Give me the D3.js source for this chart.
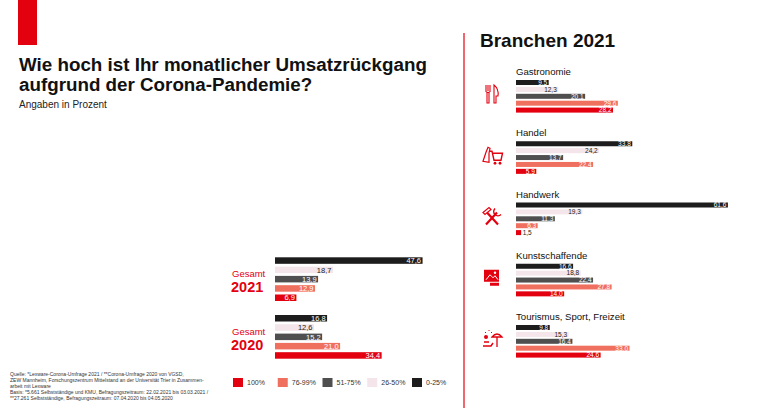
<!DOCTYPE html>
<html>
<head>
<meta charset="utf-8">
<script src="https://cdn.jsdelivr.net/npm/d3@7"></script>
<style>
  body { margin: 0; background: #fff; }
  svg { display: block; font-family: "Liberation Sans", Arial, sans-serif; }
</style>
</head>
<body>
<div class="grafico"></div>
<script>
/* Daten */
const bands = ['0-25%', '26-50%', '51-75%', '76-99%', '100%'];
const legendOrder = ['100%', '76-99%', '51-75%', '26-50%', '0-25%'];
const years = ['2021', '2020'];
const gesamt2021 = [47.6, 18.7, 13.9, 12.9, 6.9];
const gesamt2020 = [16.8, 12.6, 15.2, 21.0, 34.4];

const sectors = ['Gastronomie', 'Handel', 'Handwerk', 'Kunstschaffende', 'Tourismus, Sport, Freizeit'];
const gastronomie = [9.5, 12.3, 20.1, 29.6, 28.2];
const handel = [33.8, 24.2, 13.7, 22.4, 5.9];
const handwerk = [61.6, 19.3, 11.3, 6.3, 1.5];
const kunstschaffende = [16.6, 18.8, 22.4, 27.8, 14.0];
const tourismus = [9.8, 15.3, 16.4, 33.0, 24.6];

const sourceLines = [
  'Quelle: *Lexware-Corona-Umfrage 2021 / **Corona-Umfrage 2020 von VGSD,',
  'ZEW Mannheim, Forschungszentrum Mittelstand an der Universität Trier in Zusammen-',
  'arbeit mit Lexware',
  'Basis: *5.661 Selbstständige und KMU, Befragungszeitraum: 22.02.2021 bis 03.03.2021 /',
  '**27.261 Selbstständige, Befragungszeitraum: 07.04.2020 bis 04.05.2020'
];

const w = 780;
const h = 408;
const RED = '#e3000f';

const color = d3.scaleOrdinal()
  .domain(bands)
  .range(['#1d1d1d', '#f3e5e9', '#4f4f4f', '#f0705f', '#e3000f']);
const darkText = d => d === '26-50%';

const fmt = v => d3.format('.1f')(v).replace('.', ',');

const svg = d3.select('.grafico')
  .append('svg')
  .attr('width', w)
  .attr('height', h);

/* Kopf */
svg.append('rect').attr('x', 18).attr('y', 0).attr('width', 19).attr('height', 45).attr('fill', RED);

svg.append('text')
  .attr('x', 19).attr('y', 71)
  .attr('font-size', 18.8).attr('font-weight', 'bold').attr('fill', '#111')
  .text('Wie hoch ist Ihr monatlicher Umsatzrückgang');
svg.append('text')
  .attr('x', 19).attr('y', 91)
  .attr('font-size', 18.8).attr('font-weight', 'bold').attr('fill', '#111')
  .text('aufgrund der Corona-Pandemie?');
svg.append('text')
  .attr('x', 19).attr('y', 108)
  .attr('font-size', 10).attr('fill', '#222')
  .text('Angaben in Prozent');

/* Balken-Gruppe zeichnen */
const drawBars = (g, values, x, y, fontSize) => {
  const rows = g.selectAll('g.row')
    .data(bands.map((b, i) => ({ band: b, value: values[i] })))
    .join('g')
    .attr('class', 'row')
    .attr('transform', d => `translate(0,${y(d.band)})`);

  rows.append('rect')
    .attr('width', d => x(d.value))
    .attr('height', y.bandwidth())
    .attr('fill', d => color(d.band));

  rows.append('text')
    .attr('y', y.bandwidth() / 2)
    .attr('dy', '0.36em')
    .attr('font-size', fontSize)
    .each(function (d) {
      const inside = x(d.value) > fontSize * 2.2;
      d3.select(this)
        .attr('x', inside ? x(d.value) - 1.5 : x(d.value) + 1.5)
        .attr('text-anchor', inside ? 'end' : 'start')
        .attr('fill', inside && !darkText(d.band) ? '#fff' : '#222')
        .text(fmt(d.value));
    });
};

/* Gesamt links */
const xL = d3.scaleLinear().domain([0, 100]).range([0, 310]);
const yL = d3.scaleBand().domain(bands).range([0, 43.7]).paddingInner(0.3).paddingOuter(0);
const gY = d3.scalePoint().domain(years).range([257.3, 315]);
const totals = { '2021': gesamt2021, '2020': gesamt2020 };

years.forEach(yr => {
  const g = svg.append('g').attr('transform', `translate(275,${gY(yr)})`);
  drawBars(g, totals[yr], xL, yL, 7.5);
  svg.append('text')
    .attr('x', 232).attr('y', gY(yr) + 19.5)
    .attr('font-size', 9.5).attr('fill', RED)
    .text('Gesamt');
  svg.append('text')
    .attr('x', 231).attr('y', gY(yr) + 34.5)
    .attr('font-size', 14.5).attr('font-weight', 'bold').attr('fill', RED)
    .text(yr);
});

/* Legende */
const legend = svg.append('g').attr('transform', 'translate(0,378)');
const legX = d3.scalePoint().domain(legendOrder).range([233, 412]);
const li = legend.selectAll('g')
  .data(legendOrder)
  .join('g')
  .attr('transform', d => `translate(${legX(d)},0)`);
li.append('rect').attr('width', 10).attr('height', 9).attr('fill', d => color(d));
li.append('text').attr('x', 14).attr('y', 7.2).attr('font-size', 7).attr('fill', '#333').text(d => d);

/* Quelle */
svg.append('g')
  .selectAll('text')
  .data(sourceLines)
  .join('text')
  .attr('x', 10)
  .attr('y', (d, i) => 375.5 + i * 6.1)
  .attr('font-size', 5)
  .attr('fill', '#333')
  .text(d => d);

/* Branchen rechts */
svg.append('line')
  .attr('x1', 464).attr('x2', 464).attr('y1', 33).attr('y2', h)
  .attr('stroke', RED).attr('stroke-width', 1.2);

svg.append('text')
  .attr('x', 480).attr('y', 46.5)
  .attr('font-size', 19).attr('font-weight', 'bold').attr('fill', '#111')
  .text('Branchen 2021');

const sectorValues = [gastronomie, handel, handwerk, kunstschaffende, tourismus];
const xR = d3.scaleLinear().domain([0, 100]).range([0, 344]);
const yR = d3.scaleBand().domain(bands).range([0, 32.6]).paddingInner(0.275).paddingOuter(0);
const sY = d3.scalePoint().domain(sectors).range([75, 320]);

/* Icons, grob nachgezeichnet */
const icons = {
  'Gastronomie': g => {
    g.append('path')
      .attr('d', 'M-6,-9 V-3 M-4,-9 V-3 M-2,-9 V-3 M-6.5,-3 Q-4,0 -1.5,-3 M-5,-1.5 V9 H-3 V-1.5')
      .attr('fill', 'none').attr('stroke', RED).attr('stroke-width', 1.1);
    g.append('path')
      .attr('d', 'M2,9 V-9 Q7,-5 6,2 H4 V9 Z')
      .attr('fill', 'none').attr('stroke', RED).attr('stroke-width', 1.1);
  },
  'Handel': g => {
    g.append('path')
      .attr('d', 'M-3,-4 H0 L2,5 H9 L10.5,-2 H1')
      .attr('fill', 'none').attr('stroke', RED).attr('stroke-width', 1.4);
    g.append('circle').attr('cx', 3).attr('cy', 8).attr('r', 1.4).attr('fill', RED);
    g.append('circle').attr('cx', 8).attr('cy', 8).attr('r', 1.4).attr('fill', RED);
    g.append('path')
      .attr('d', 'M-9,6 L-6,-3 L-4,-8 L-2,-7 L-3,-2 L-3,7 Z')
      .attr('fill', 'none').attr('stroke', RED).attr('stroke-width', 1.2);
  },
  'Handwerk': g => {
    g.append('path')
      .attr('d', 'M-6,8 L5,-4 M6,8 L-5,-4')
      .attr('stroke', RED).attr('stroke-width', 2.2);
    g.append('path')
      .attr('d', 'M-9,-4 L-3,-9 L-1,-7 L-7,-2 Z')
      .attr('fill', 'none').attr('stroke', RED).attr('stroke-width', 1.2);
    g.append('path')
      .attr('d', 'M3,-8 A4,4 0 1 0 9,-2')
      .attr('fill', 'none').attr('stroke', RED).attr('stroke-width', 1.6);
  },
  'Kunstschaffende': g => {
    g.append('rect').attr('x', -8).attr('y', -8).attr('width', 15).attr('height', 12).attr('fill', RED);
    g.append('path')
      .attr('d', 'M-6,2 L-2,-3 L1,0 L3,-2 L6,2')
      .attr('fill', 'none').attr('stroke', '#fff').attr('stroke-width', 1);
    g.append('circle').attr('cx', 3).attr('cy', -5).attr('r', 1.2).attr('fill', '#fff');
    g.append('rect').attr('x', -2).attr('y', 5).attr('width', 9).attr('height', 3).attr('fill', RED);
  },
  'Tourismus, Sport, Freizeit': g => {
    g.append('circle').attr('cx', -6).attr('cy', -2).attr('r', 2).attr('fill', RED);
    g.append('path')
      .attr('d', 'M-9,7 H-1 L1,4 M-8,3 H-3')
      .attr('fill', 'none').attr('stroke', RED).attr('stroke-width', 1.5);
    g.append('path')
      .attr('d', 'M0,-2 Q5,-8 10,-2 Z M5,-2 V8')
      .attr('fill', 'none').attr('stroke', RED).attr('stroke-width', 1.3);
    g.append('path')
      .attr('d', 'M-7,-7 L-6,-6 M-3,-9 L-3,-8 M0,-7 L-1,-6')
      .attr('stroke', RED).attr('stroke-width', 1);
  }
};

sectors.forEach((s, i) => {
  const base = sY(s);
  svg.append('text')
    .attr('x', 516).attr('y', base)
    .attr('font-size', 9.6).attr('fill', '#111')
    .text(s);
  const g = svg.append('g').attr('transform', `translate(516,${base + 5})`);
  drawBars(g, sectorValues[i], xR, yR, 6.5);
  const ic = svg.append('g').attr('transform', `translate(492,${base + 19})`);
  icons[s](ic);
});
</script>
</body>
</html>
